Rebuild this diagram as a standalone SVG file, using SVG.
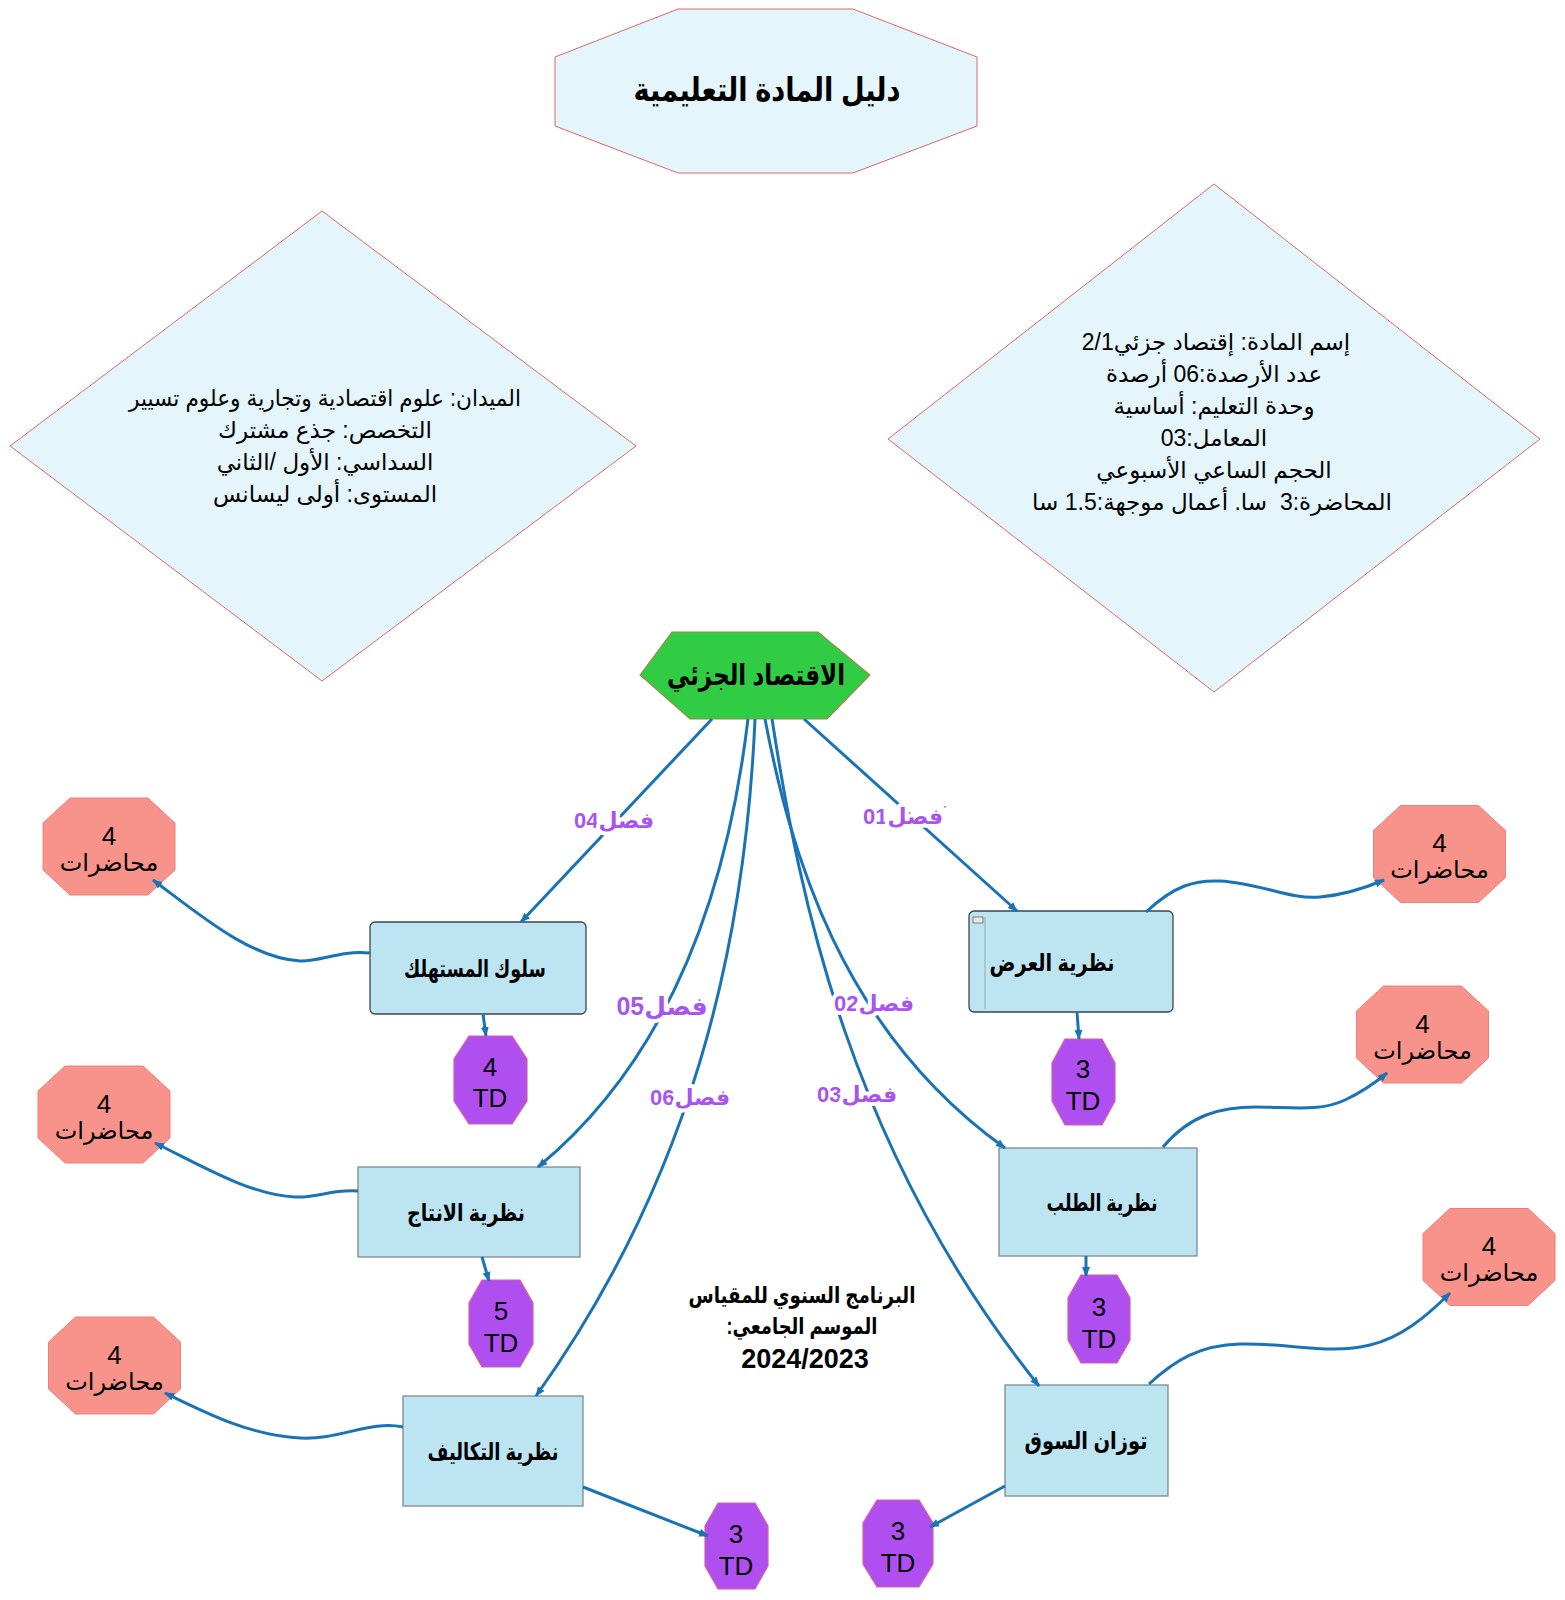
<svg xmlns="http://www.w3.org/2000/svg" xmlns:xlink="http://www.w3.org/1999/xlink" width="1565" height="1600" viewBox="0 0 1565 1600">
<style>
  text { font-family: "Liberation Sans", "DejaVu Sans", sans-serif; fill: #000; text-anchor: middle; }
  .ar { direction: rtl; unicode-bidi: embed; }
  .info { fill: #e4f5fc; stroke: #e06666; stroke-width: 1; }
  .box { fill: #bde4f1; stroke: #7a8a95; stroke-width: 1.3; }
  .boxr { fill: #bde4f1; stroke: #3a4550; stroke-width: 1.3; }
  .lec { fill: #f8938b; stroke: #f07f7a; stroke-width: 1; }
  .td { fill: #b04ff0; stroke: #d5609e; stroke-width: 1.2; }
  .conn { fill: none; stroke: #1a73b5; stroke-width: 3; }
  .lbl { fill: #a855f0; font-weight: bold; font-size: 22px; stroke: #fff; stroke-width: 8; paint-order: stroke; stroke-linejoin: round; }
  .node-t { font-weight: bold; font-size: 24px; }
  .num { font-size: 26px; }
  .lt { font-size: 24px; }
  .dt { font-size: 23px; }
</style>
<defs>
  <marker id="arr" viewBox="0 0 10 10" refX="9" refY="5" markerWidth="10" markerHeight="10" markerUnits="userSpaceOnUse" orient="auto">
    <path d="M0,1 L10,5 L0,9 z" fill="#1a73b5"/>
  </marker>
  <polygon id="oct-m" points="-39,-48.5 39,-48.5 66,-23.5 66,23.5 39,48.5 -39,48.5 -66,23.5 -66,-23.5"/>
</defs>
<rect width="1565" height="1600" fill="#fff"/>

<g id="title">
  <polygon class="info" points="678,9 853,9 977,57 977,126 853,173 678,173 555,126 555,57"/>
  <text class="ar" x="767" y="101" textLength="267" lengthAdjust="spacingAndGlyphs" style="font-weight:bold;font-size:33px">دليل المادة التعليمية</text>
</g>

<g id="info-right">
  <polygon class="info" points="1214,184 1540,439 1214,692 888,439"/>
  <text class="ar dt" x="1216" y="350">إسم المادة: إقتصاد جزئي2/1</text>
  <text class="ar dt" x="1214" y="382">عدد الأرصدة:06 أرصدة</text>
  <text class="ar dt" x="1214" y="414">وحدة التعليم: أساسية</text>
  <text class="ar dt" x="1214" y="446">المعامل:03</text>
  <text class="ar dt" x="1214" y="478">الحجم الساعي الأسبوعي</text>
  <text class="ar dt" x="1212" y="510">المحاضرة:3&#160; سا. أعمال موجهة:1.5 سا</text>
</g>

<g id="info-left">
  <polygon class="info" points="322,211 636,446 322,681 10,446"/>
  <text class="ar dt" x="325" y="406" textLength="392" lengthAdjust="spacingAndGlyphs">الميدان: علوم اقتصادية وتجارية وعلوم تسيير</text>
  <text class="ar dt" x="325" y="438">التخصص: جذع مشترك</text>
  <text class="ar dt" x="325" y="470">السداسي: الأول /الثاني</text>
  <text class="ar dt" x="325" y="502">المستوى: أولى ليسانس</text>
</g>

<g id="root">
  <polygon points="640,675 672,632 818,632 870,675 827,719 690,719" fill="#2fcc44" stroke="#a0884a" stroke-width="1.2"/>
  <text class="ar" x="756" y="685" textLength="178" lengthAdjust="spacingAndGlyphs" style="font-weight:bold;font-size:29px">الاقتصاد الجزئي</text>
</g>

<g id="n-consumer">
  <rect class="boxr" x="370" y="922" width="216" height="92" rx="5"/>
  <text class="ar node-t" x="475" y="977" textLength="142" lengthAdjust="spacingAndGlyphs">سلوك المستهلك</text>
</g>
<g id="n-supply">
  <rect class="boxr" x="969" y="911" width="204" height="101" rx="5"/>
  <rect x="973" y="917" width="10" height="6" fill="#e8e8e8" stroke="#666" stroke-width="0.8"/>
  <line x1="985" y1="917" x2="985" y2="1009" stroke="#9ab" stroke-width="1"/>
  <text class="ar node-t" x="1052" y="971" textLength="125" lengthAdjust="spacingAndGlyphs">نظرية العرض</text>
</g>
<g id="n-production">
  <rect class="box" x="358" y="1167" width="222" height="90"/>
  <text class="ar node-t" x="466" y="1221" textLength="118" lengthAdjust="spacingAndGlyphs">نظرية الانتاج</text>
</g>
<g id="n-demand">
  <rect class="box" x="999" y="1148" width="198" height="108"/>
  <text class="ar node-t" x="1102" y="1211" textLength="111" lengthAdjust="spacingAndGlyphs">نظرية الطلب</text>
</g>
<g id="n-costs">
  <rect class="box" x="403" y="1396" width="180" height="110"/>
  <text class="ar node-t" x="493" y="1460" textLength="131" lengthAdjust="spacingAndGlyphs">نظرية التكاليف</text>
</g>
<g id="n-equilibrium">
  <rect class="box" x="1005" y="1385" width="163" height="111"/>
  <text class="ar node-t" x="1086" y="1449" textLength="123" lengthAdjust="spacingAndGlyphs">توزان السوق</text>
</g>

<g id="td-consumer">
  <polygon class="td" points="469,1036 512,1036 527,1059 527,1101 512,1124 469,1124 454,1101 454,1059"/>
  <text class="num" x="490" y="1076">4</text>
  <text class="num" x="490" y="1107">TD</text>
</g>
<g id="td-supply">
  <polygon class="td" points="1065,1039 1102,1039 1115,1063 1115,1101 1102,1125 1065,1125 1052,1101 1052,1063"/>
  <text class="num" x="1083" y="1078">3</text>
  <text class="num" x="1083" y="1110">TD</text>
</g>
<g id="td-production">
  <polygon class="td" points="482,1280 520,1280 533,1303 533,1344 520,1367 482,1367 469,1344 469,1303"/>
  <text class="num" x="501" y="1320">5</text>
  <text class="num" x="501" y="1352">TD</text>
</g>
<g id="td-demand">
  <polygon class="td" points="1081,1275 1117,1275 1130,1298 1130,1340 1117,1363 1081,1363 1068,1340 1068,1298"/>
  <text class="num" x="1099" y="1316">3</text>
  <text class="num" x="1099" y="1348">TD</text>
</g>
<g id="td-costs">
  <polygon class="td" points="718,1503 755,1503 768,1526 768,1566 755,1589 718,1589 705,1566 705,1526"/>
  <text class="num" x="736" y="1543">3</text>
  <text class="num" x="736" y="1575">TD</text>
</g>
<g id="td-equilibrium">
  <polygon class="td" points="877,1500 919,1500 933,1523 933,1564 919,1587 877,1587 863,1564 863,1523"/>
  <text class="num" x="898" y="1540">3</text>
  <text class="num" x="898" y="1572">TD</text>
</g>

<g id="lec-consumer" transform="translate(109,846.5)">
  <use xlink:href="#oct-m" class="lec"/>
  <text class="num" x="0" y="-2">4</text>
  <text class="ar lt" x="0" y="24">محاضرات</text>
</g>
<g id="lec-production" transform="translate(104,1114.5)">
  <use xlink:href="#oct-m" class="lec"/>
  <text class="num" x="0" y="-2">4</text>
  <text class="ar lt" x="0" y="24">محاضرات</text>
</g>
<g id="lec-costs" transform="translate(114.5,1365.5)">
  <use xlink:href="#oct-m" class="lec"/>
  <text class="num" x="0" y="-2">4</text>
  <text class="ar lt" x="0" y="24">محاضرات</text>
</g>
<g id="lec-supply" transform="translate(1439.5,854)">
  <use xlink:href="#oct-m" class="lec"/>
  <text class="num" x="0" y="-2">4</text>
  <text class="ar lt" x="0" y="24">محاضرات</text>
</g>
<g id="lec-demand" transform="translate(1422.5,1034.5)">
  <use xlink:href="#oct-m" class="lec"/>
  <text class="num" x="0" y="-2">4</text>
  <text class="ar lt" x="0" y="24">محاضرات</text>
</g>
<g id="lec-equilibrium" transform="translate(1489,1257)">
  <use xlink:href="#oct-m" class="lec"/>
  <text class="num" x="0" y="-2">4</text>
  <text class="ar lt" x="0" y="24">محاضرات</text>
</g>

<g id="program-note">
  <text class="ar" x="802" y="1303" textLength="227" lengthAdjust="spacingAndGlyphs" style="font-weight:bold;font-size:23px">البرنامج السنوي للمقياس</text>
  <text class="ar" x="802" y="1334" textLength="151" lengthAdjust="spacingAndGlyphs" style="font-weight:bold;font-size:23px">الموسم الجامعي:</text>
  <text x="805" y="1368" style="font-weight:bold;font-size:27px">2024/2023</text>
</g>

<g id="connectors">
  <path class="conn" d="M712,719 L521,922" marker-end="url(#arr)"/>
  <path class="conn" d="M804,719 L1017,911" marker-end="url(#arr)"/>
  <path class="conn" d="M748,719 C730,870 680,1050 538,1167" marker-end="url(#arr)"/>
  <path class="conn" d="M755,719 C745,950 690,1180 536,1396" marker-end="url(#arr)"/>
  <path class="conn" d="M765,719 C790,850 840,1030 1005,1148" marker-end="url(#arr)"/>
  <path class="conn" d="M772,719 C800,900 850,1150 1039,1386" marker-end="url(#arr)"/>

  <path class="conn" d="M483,1014 L486,1036" marker-end="url(#arr)"/>
  <path class="conn" d="M1077,1012 L1079,1039" marker-end="url(#arr)"/>
  <path class="conn" d="M482,1257 L489,1281" marker-end="url(#arr)"/>
  <path class="conn" d="M1086,1256 L1086,1276" marker-end="url(#arr)"/>
  <path class="conn" d="M583,1487 L708,1536" marker-end="url(#arr)"/>
  <path class="conn" d="M1005,1486 L930,1527" marker-end="url(#arr)"/>

  <path class="conn" d="M370,953 C340,950 320,962 300,961 C250,958 200,915 153,880" marker-end="url(#arr)"/>
  <path class="conn" d="M358,1191 C330,1189 320,1198 295,1197 C250,1195 200,1165 155,1143" marker-end="url(#arr)"/>
  <path class="conn" d="M403,1427 C370,1420 340,1440 300,1438 C250,1435 210,1415 165,1393" marker-end="url(#arr)"/>
  <path class="conn" d="M1146,912 C1175,885 1195,880 1220,881 C1260,883 1290,900 1320,897 C1345,895 1365,888 1384,880" marker-end="url(#arr)"/>
  <path class="conn" d="M1163,1147 C1190,1115 1220,1107 1256,1107 C1290,1107 1320,1112 1345,1100 C1362,1092 1375,1083 1387,1073" marker-end="url(#arr)"/>
  <path class="conn" d="M1149,1384 C1175,1360 1200,1345 1240,1344 C1290,1343 1330,1355 1370,1345 C1400,1338 1425,1318 1450,1293" marker-end="url(#arr)"/>

  <text class="ar lbl" x="614" y="828">فصل04</text>
  <text class="ar lbl" x="903" y="824">فصل01</text>
  <text x="945" y="816" style="font-size:12px;fill:#555">`</text>
  <text class="ar lbl" x="662" y="1015" style="font-size:25px">فصل05</text>
  <text class="ar lbl" x="874" y="1011">فصل02</text>
  <text class="ar lbl" x="690" y="1105">فصل06</text>
  <text class="ar lbl" x="857" y="1102">فصل03</text>
</g>
</svg>
